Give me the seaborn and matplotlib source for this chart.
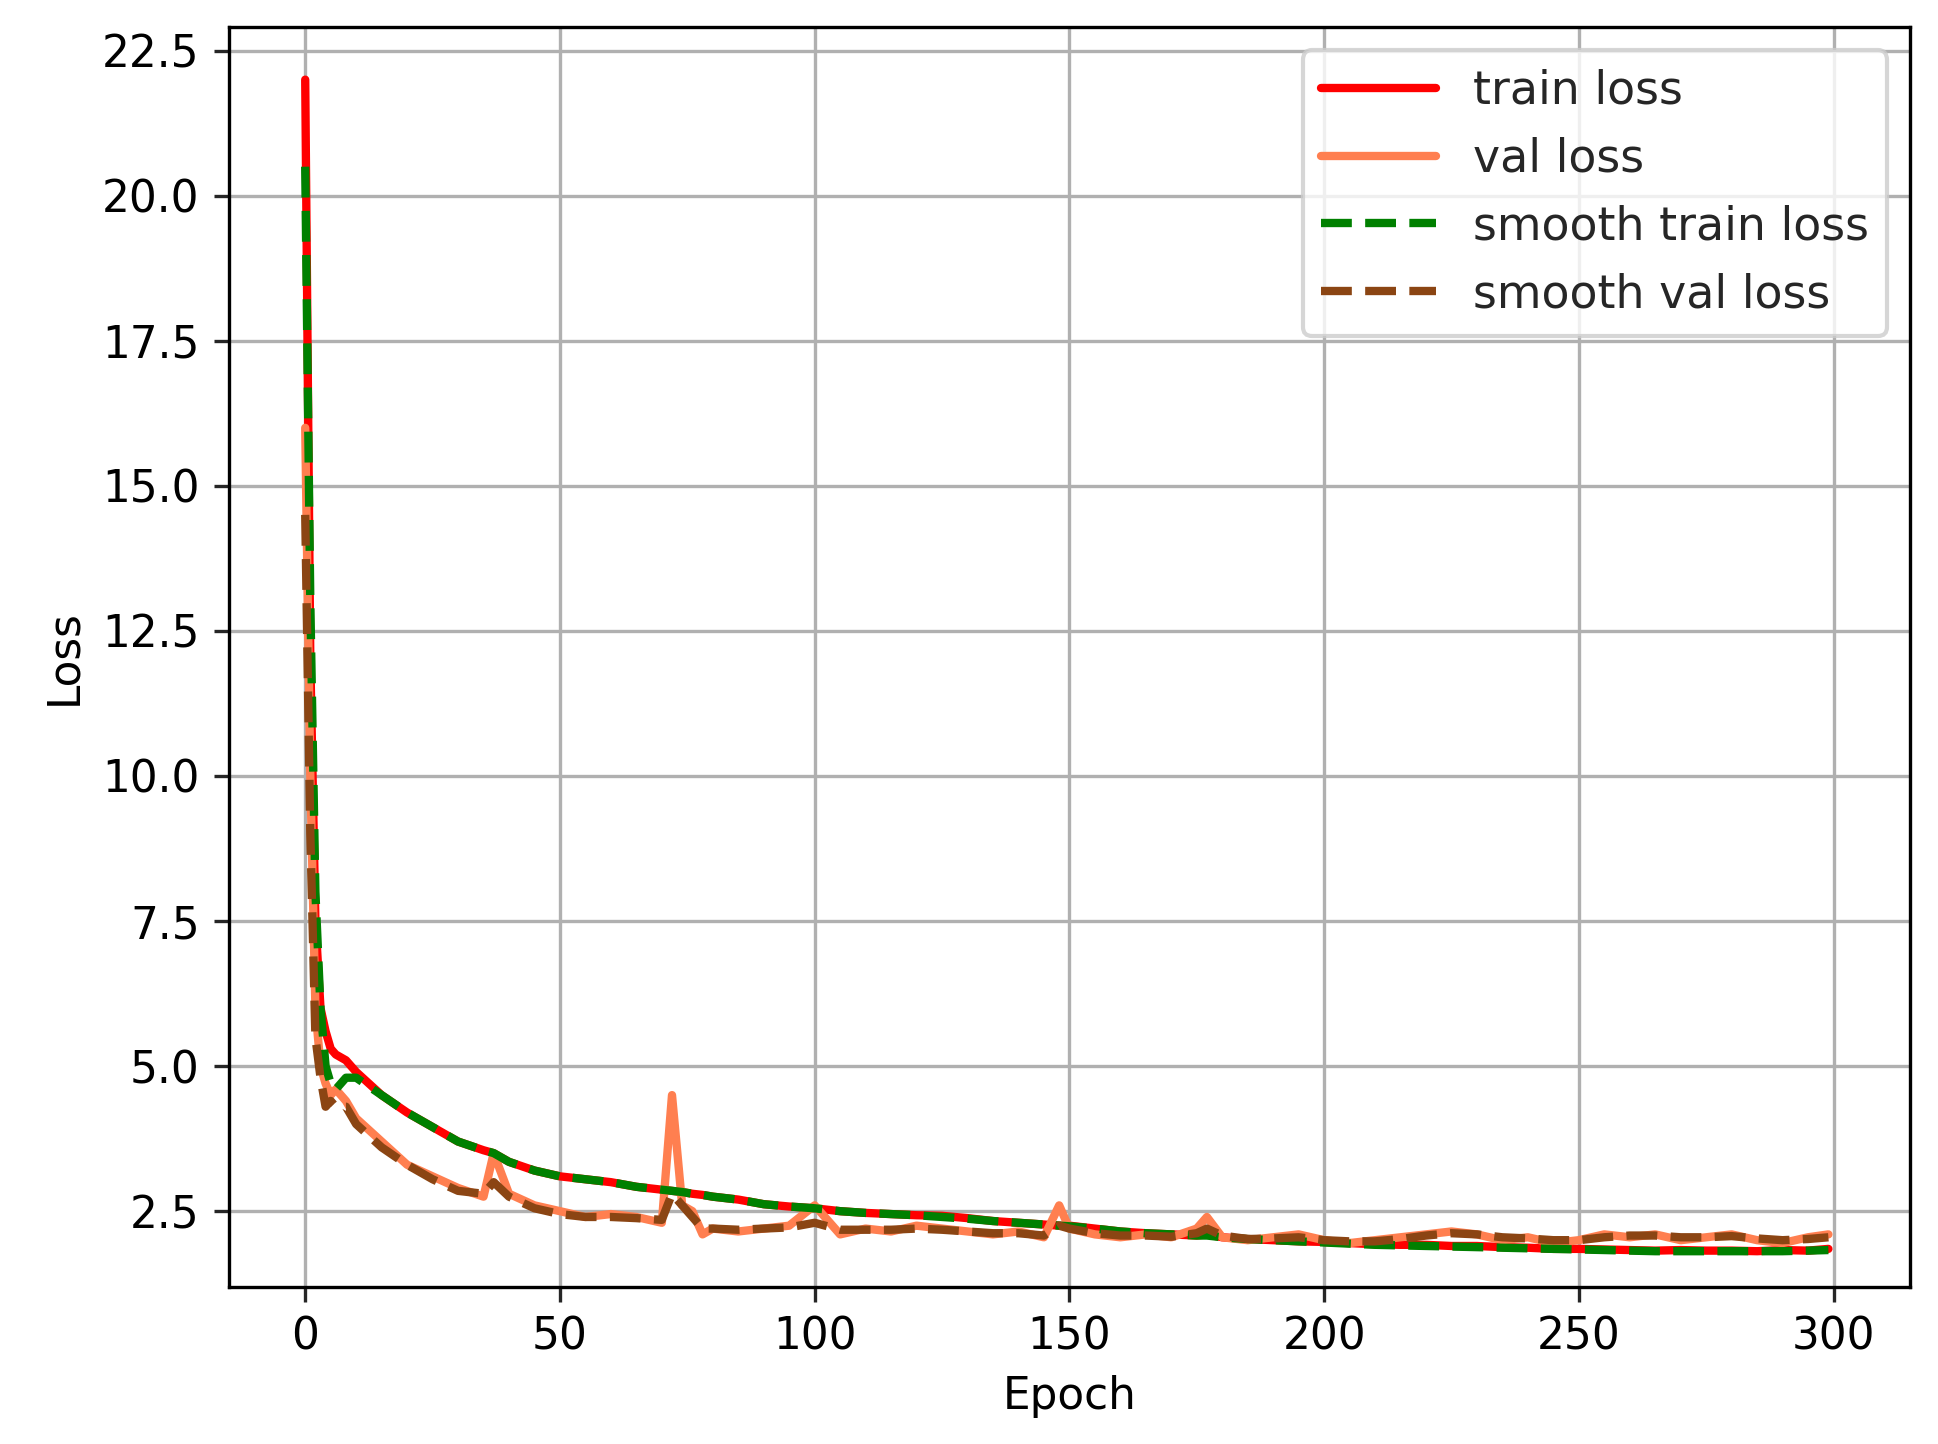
import matplotlib
matplotlib.use("Agg")
import matplotlib.pyplot as plt
import seaborn as sns
import pandas as pd

# values
epochs = [0, 1, 2, 3, 4, 5, 6, 8, 10, 15, 20, 25, 30, 35, 37, 40, 45, 50, 55, 60, 65, 70,
          72, 74, 76, 78, 80, 85, 90, 95, 100, 105, 110, 115, 120, 125, 130, 135, 140, 145,
          148, 150, 155, 160, 165, 170, 175, 177, 180, 185, 190, 195, 200, 205, 210, 215,
          220, 225, 230, 235, 240, 245, 250, 255, 260, 265, 270, 275, 280, 285, 290, 295, 299]

train_loss = [22.0, 12.0, 7.5, 6.0, 5.6, 5.3, 5.2, 5.1, 4.9, 4.5, 4.2, 3.95, 3.7, 3.55, 3.5, 3.35, 3.2, 3.1, 3.05, 3.0,
              2.92, 2.87, 2.85, 2.83, 2.8, 2.78, 2.75, 2.7, 2.62, 2.58, 2.55, 2.5, 2.47, 2.45, 2.43, 2.42,
              2.38, 2.33, 2.3, 2.27, 2.25, 2.25, 2.2, 2.15, 2.12, 2.1, 2.08, 2.1, 2.05, 2.02, 2.0, 1.98,
              1.97, 1.95, 1.93, 1.92, 1.92, 1.9, 1.9, 1.88, 1.87, 1.85, 1.85, 1.84, 1.83, 1.82, 1.83,
              1.82, 1.82, 1.81, 1.83, 1.82, 1.85]

val_loss = [16.0, 10.0, 6.0, 5.0, 4.7, 4.5, 4.6, 4.4, 4.1, 3.7, 3.3, 3.1, 2.9, 2.75, 3.5, 2.8, 2.6, 2.5, 2.4, 2.45,
            2.4, 2.3, 4.5, 2.6, 2.5, 2.1, 2.2, 2.15, 2.2, 2.25, 2.6, 2.1, 2.2, 2.15, 2.25, 2.2,
            2.15, 2.1, 2.15, 2.05, 2.6, 2.2, 2.1, 2.05, 2.1, 2.05, 2.2, 2.4, 2.05, 2.0, 2.05, 2.1,
            2.0, 1.95, 2.0, 2.05, 2.1, 2.15, 2.1, 2.0, 2.05, 1.95, 2.0, 2.1, 2.05, 2.1, 2.0,
            2.05, 2.1, 2.0, 1.95, 2.05, 2.1]

smooth_train = [20.5, 13.0, 8.0, 6.0, 5.0, 4.7, 4.6, 4.8, 4.8, 4.5, 4.2, 3.95, 3.7, 3.55, 3.5, 3.35, 3.2, 3.1, 3.05, 3.0,
                2.92, 2.87, 2.85, 2.83, 2.8, 2.78, 2.75, 2.7, 2.62, 2.58, 2.55, 2.5, 2.47, 2.45, 2.43, 2.4,
                2.37, 2.33, 2.3, 2.27, 2.25, 2.24, 2.2, 2.15, 2.12, 2.1, 2.08, 2.08, 2.05, 2.02, 2.0, 1.98,
                1.96, 1.94, 1.92, 1.91, 1.9, 1.89, 1.88, 1.87, 1.86, 1.85, 1.84, 1.83, 1.82, 1.81, 1.81,
                1.81, 1.81, 1.81, 1.81, 1.82, 1.83]

smooth_val = [14.5, 9.0, 5.5, 4.8, 4.3, 4.4, 4.3, 4.3, 4.0, 3.6, 3.3, 3.05, 2.85, 2.8, 3.0, 2.75, 2.55, 2.45, 2.4, 2.4,
              2.38, 2.35, 2.8, 2.6, 2.4, 2.2, 2.2, 2.18, 2.2, 2.22, 2.3, 2.18, 2.18, 2.18, 2.2, 2.18,
              2.15, 2.12, 2.12, 2.08, 2.25, 2.2, 2.12, 2.08, 2.08, 2.06, 2.12, 2.2, 2.08, 2.02, 2.03, 2.05,
              2.0, 1.98, 1.98, 2.02, 2.08, 2.12, 2.1, 2.05, 2.03, 2.0, 2.0, 2.05, 2.08, 2.08, 2.05,
              2.05, 2.07, 2.03, 2.0, 2.02, 2.05]

df = pd.DataFrame({"Epoch": epochs, "train loss": train_loss, "val loss": val_loss,
                   "smooth train loss": smooth_train, "smooth val loss": smooth_val})

sns.set_style("ticks")
plt.rcParams['font.family'] = ['DejaVu Sans']
fig, ax = plt.subplots(figsize=(1939 / 300, 1444 / 300), dpi=300)
fig.subplots_adjust(left=0.118, right=0.985, top=0.981, bottom=0.109)

sns.lineplot(data=df, x="Epoch", y="train loss", color="red", lw=2, label="train loss", ax=ax)
sns.lineplot(data=df, x="Epoch", y="val loss", color="coral", lw=2, label="val loss", ax=ax)
sns.lineplot(data=df, x="Epoch", y="smooth train loss", color="green", lw=2, ls="--",
             label="smooth train loss", ax=ax)
sns.lineplot(data=df, x="Epoch", y="smooth val loss", color="#8B4513", lw=2, ls="--",
             label="smooth val loss", ax=ax)

ax.set_xlim(-15, 315)
ax.set_ylim(1.2, 22.9)
ax.set_yticks([2.5, 5.0, 7.5, 10.0, 12.5, 15.0, 17.5, 20.0, 22.5])
ax.set_xticks([0, 50, 100, 150, 200, 250, 300])
ax.grid(True, color="#b0b0b0", lw=0.8)
ax.set_xlabel("Epoch", fontsize=10.5, color="black")
ax.set_ylabel("Loss", fontsize=10.5, color="black")
ax.tick_params(labelsize=10.5, labelcolor="black")
for s in ax.spines.values():
    s.set_linewidth(0.8)
    s.set_color("black")
ax.legend(loc="upper right", fontsize=11, frameon=True, handlelength=2.5)

fig.savefig("out.png", dpi=300)
